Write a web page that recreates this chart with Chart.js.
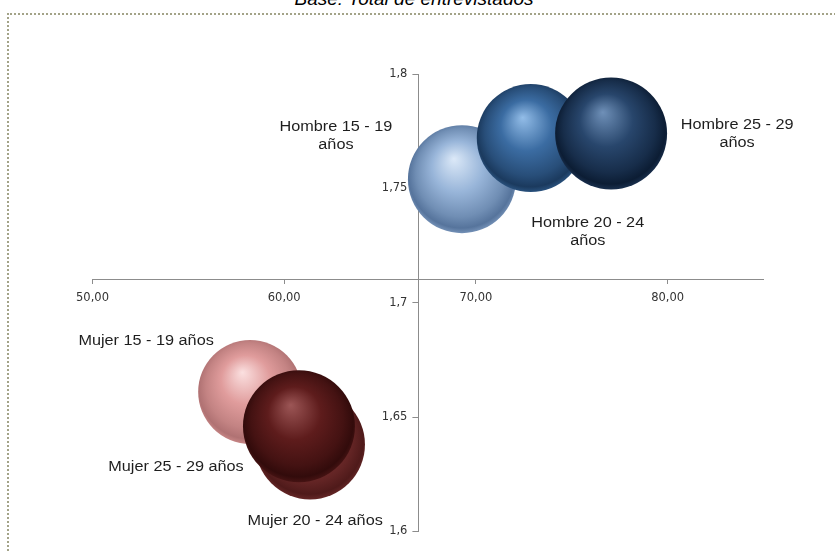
<!DOCTYPE html>
<html lang="es">
<head>
<meta charset="utf-8">
<title>Peso y estatura por sexo y edad</title>
<script src="https://cdn.jsdelivr.net/npm/chart.js@4.4.0/dist/chart.umd.min.js"></script>
<style>
  html, body { margin: 0; padding: 0; background: #fff; }
  #wrap { position: relative; width: 835px; height: 551px; overflow: hidden; }
  #frame {
    position: absolute; left: 7px; top: 13px; right: -4px; bottom: -4px;
    border-top: 2px dotted #a3a388; border-left: 2px dotted #a3a388;
  }
  #subtitle {
    position: absolute; left: 0; width: 828px; top: -12px; text-align: center;
    font: italic 19px "Liberation Sans", Arial, sans-serif; color: #000;
  }
  canvas { position: absolute; left: 0; top: 0; }
</style>
</head>
<body>
<div id="wrap">
  <div id="subtitle">Base: Total de entrevistados</div>
  <div id="frame"></div>
  <canvas id="bubbleChart" width="835" height="551"></canvas>
</div>
<script>
// ----------------------------
// DATA
// ----------------------------
const groups = [
  ["Hombre 15 - 19", "años"],
  ["Hombre 20 - 24", "años"],
  ["Hombre 25 - 29", "años"],
  ["Mujer 15 - 19 años"],
  ["Mujer 20 - 24 años"],
  ["Mujer 25 - 29 años"]
];
const peso = [69.27, 72.86, 77.05, 58.22, 61.35, 60.77];        // eje x
const estatura = [1.754, 1.772, 1.774, 1.661, 1.638, 1.646];     // eje y
const tamano = [93, 93, 100, 86, 96, 100];                       // tamaño burbuja

const xTicks = [50, 60, 70, 80];
const yTicks = [1.6, 1.65, 1.7, 1.75, 1.8];
const xCross = 1.71;   // y value where the x axis sits
const yCross = 67;     // x value where the y axis sits

// ----------------------------
// STYLE
// ----------------------------
const maxRadius = 56;
const sphereColors = [
  ["#dce9f8", "#98b5d9", "#56749c"],
  ["#93bde8", "#3b6ca2", "#1b3a5e"],
  ["#6f90b8", "#28466c", "#0c1d34"],
  ["#fbe0e0", "#e09c9c", "#b07273"],
  ["#b87070", "#7e3434", "#4f1a1a"],
  ["#9c5656", "#5e1c1c", "#320b0b"]
];
// label centre offset from the bubble centre (px)
const labelOffset = [[-126, -52], [57, 85], [126, -8], [-104, -51], [5, 77], [-123, 41]];
const textStretch = 1.16;

function mix(a, b, t) {
  const pa = [1, 3, 5].map(i => parseInt(a.substr(i, 2), 16));
  const pb = [1, 3, 5].map(i => parseInt(b.substr(i, 2), 16));
  return "rgb(" + pa.map((v, i) => Math.round(v + (pb[i] - v) * t)).join(",") + ")";
}

function sphere(context, i) {
  const [hl, base, dark] = sphereColors[i];
  if (context.type !== "data" || !context.raw) return base;
  const chart = context.chart;
  const raw = context.raw;
  const x = chart.scales.x.getPixelForValue(raw.x);
  const y = chart.scales.y.getPixelForValue(raw.y);
  const r = raw.r;
  if (![x, y, r].every(Number.isFinite)) return base;
  const g = chart.ctx.createRadialGradient(x - r * 0.15, y - r * 0.38, 0, x, y - r * 0.05, r * 1.05);
  g.addColorStop(0, hl);
  g.addColorStop(0.45, base);
  g.addColorStop(0.78, mix(base, dark, 0.6));
  g.addColorStop(0.93, dark);
  g.addColorStop(1, mix(dark, base, 0.45));
  return g;
}

// ----------------------------
// PLUGINS
// ----------------------------
// move the left y axis so that it crosses the x axis at yCross
const yAxisCross = {
  id: "yAxisCross",
  afterLayout(chart) {
    const y = chart.scales.y;
    const px = chart.scales.x.getPixelForValue(yCross);
    y.right = px;
    y.left = px - 60;
    y.width = 60;
  }
};

const bubbleLabels = {
  id: "bubbleLabels",
  afterDatasetsDraw(chart) {
    const ctx = chart.ctx;
    ctx.save();
    ctx.font = '14px "Liberation Sans", Arial, sans-serif';
    ctx.fillStyle = "#1e1e1e";
    ctx.textAlign = "center";
    ctx.textBaseline = "middle";
    chart.data.datasets.forEach((ds, i) => {
      const el = chart.getDatasetMeta(i).data[0];
      const [dx, dy] = labelOffset[i];
      ds.labelLines.forEach((line, k) => {
        ctx.save();
        ctx.translate(el.x + dx, el.y + dy + k * 18);
        ctx.scale(textStretch, 1);
        ctx.fillText(line, 0, 0);
        ctx.restore();
      });
    });
    ctx.restore();
  }
};

// ----------------------------
// CHART
// ----------------------------
const datasets = groups.map((g, i) => ({
  label: g.join(" "),
  labelLines: g,
  data: [{ x: peso[i], y: estatura[i], r: maxRadius * Math.sqrt(tamano[i] / 100) }],
  backgroundColor: ctx => sphere(ctx, i),
  hoverBackgroundColor: ctx => sphere(ctx, i),
  borderWidth: 0,
  order: 2 - (i % 3)
}));

const axisGray = "#8c8c8c";
const tickFont = { family: "DejaVu Sans", size: 11.5 };

new Chart(document.getElementById("bubbleChart"), {
  type: "bubble",
  data: { datasets },
  options: {
    responsive: false,
    animation: false,
    events: [],
    layout: { autoPadding: false, padding: { left: 92.5, right: 71.5, top: 74, bottom: 19.5 } },
    plugins: { legend: { display: false }, tooltip: { enabled: false } },
    scales: {
      x: {
        type: "linear", min: 50, max: 85, position: { y: xCross },
        afterBuildTicks: s => { s.ticks = xTicks.map(v => ({ value: v })); },
        afterFit: s => { s.height = 0; },
        grid: { drawOnChartArea: false, tickLength: 4, color: axisGray },
        border: { color: axisGray, width: 1 },
        ticks: { font: tickFont, color: "#333333", padding: 7,
                 callback: v => v.toFixed(2).replace(".", ",") }
      },
      y: {
        type: "linear", min: 1.6, max: 1.8, position: "left",
        afterBuildTicks: s => { s.ticks = yTicks.map(v => ({ value: v })); },
        afterFit: s => { s.width = 0; },
        grid: { drawOnChartArea: false, tickLength: 6, color: axisGray },
        border: { color: axisGray, width: 1 },
        ticks: { font: tickFont, color: "#333333", padding: 5,
                 callback: v => String(+v.toFixed(2)).replace(".", ",") }
      }
    }
  },
  plugins: [yAxisCross, bubbleLabels]
});
</script>
</body>
</html>
